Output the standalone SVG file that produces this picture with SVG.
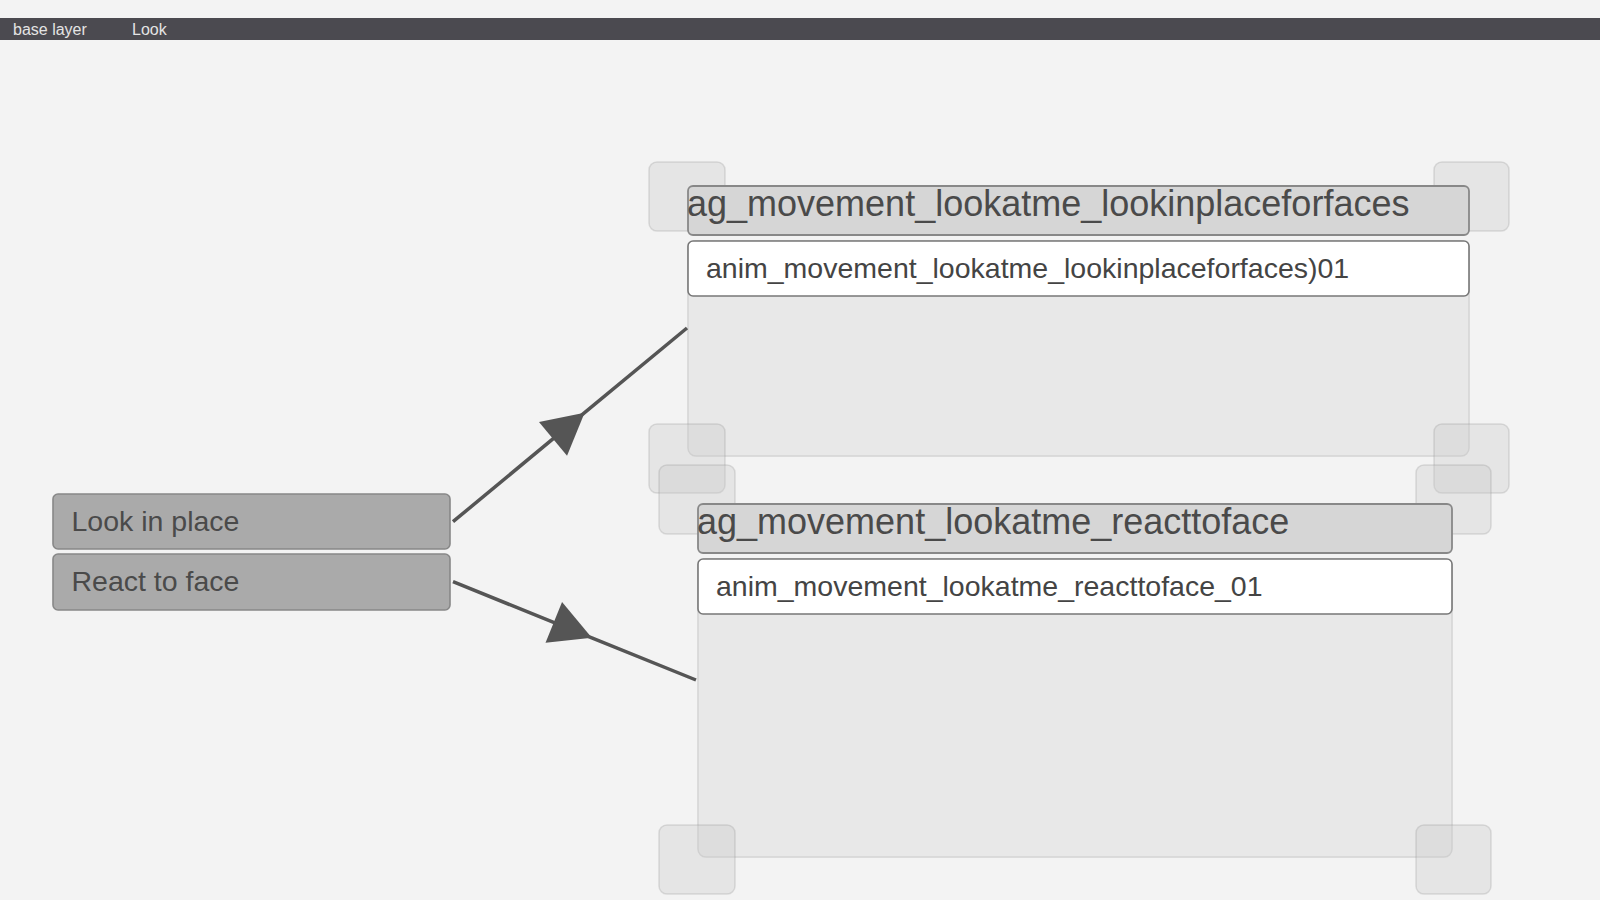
<svg xmlns="http://www.w3.org/2000/svg" width="1600" height="900" viewBox="0 0 1600 900">
<style>
.bg{fill:#f3f3f3}
.bar{fill:#4b4a50}
.bartxt{font-family:"Liberation Sans",Arial,sans-serif;font-size:16px;fill:#e4e4e4}
.body{fill:#e8e8e8;stroke:#d4d4d4;stroke-width:1.5}
.corner{fill:rgba(200,200,200,0.33);stroke:rgba(140,140,140,0.25);stroke-width:1.5}
.hdr{fill:#d6d6d6;stroke:#888888;stroke-width:1.8}
.item{fill:#ffffff;stroke:#777777;stroke-width:1.6}
.title{font-family:"Liberation Sans",Arial,sans-serif;font-size:36px;fill:#4a4a4a}
.itxt{font-family:"Liberation Sans",Arial,sans-serif;font-size:28.5px;fill:#444444}
.state{fill:#aaaaaa;stroke:#888888;stroke-width:1.6}
.stxt{font-family:"Liberation Sans",Arial,sans-serif;font-size:28.5px;fill:#4a4a4a}
.edge{fill:none;stroke:#555555;stroke-width:3.5;marker-mid:url(#arrow)}
</style>
<defs>
<marker id="arrow" markerUnits="userSpaceOnUse" viewBox="-43 -24 45 48" markerWidth="45" markerHeight="48" refX="0" refY="0" orient="auto">
<path d="M0,0 L-41,-22 L-41,22 Z" fill="#555555"/>
</marker>
</defs>
<rect class="bg" x="0" y="0" width="1600" height="900"/>
<g id="topbar">
<rect class="bar" x="0" y="18" width="1600" height="22"/>
<text class="bartxt" x="13" y="35">base layer</text>
<text class="bartxt" x="132" y="35">Look</text>
</g>
<g id="group-lookinplace">
<rect class="body" x="688" y="241" width="781" height="215" rx="8"/>
<rect class="corner" x="649" y="162" width="76" height="69" rx="8"/>
<rect class="corner" x="1434" y="162" width="75" height="69" rx="8"/>
<rect class="corner" x="649" y="424" width="76" height="69" rx="8"/>
<rect class="corner" x="1434" y="424" width="75" height="69" rx="8"/>
<rect class="hdr" x="688" y="186" width="781" height="49" rx="5"/>
<text class="title" x="687" y="215.5">ag_movement_lookatme_lookinplaceforfaces</text>
<rect class="item" x="688" y="241" width="781" height="55" rx="5"/>
<text class="itxt" x="706" y="278">anim_movement_lookatme_lookinplaceforfaces)01</text>
</g>
<g id="group-reacttoface">
<rect class="body" x="698" y="559" width="754" height="298" rx="8"/>
<rect class="corner" x="659" y="465" width="76" height="69" rx="8"/>
<rect class="corner" x="1416" y="465" width="75" height="69" rx="8"/>
<rect class="corner" x="659" y="825" width="76" height="69" rx="8"/>
<rect class="corner" x="1416" y="825" width="75" height="69" rx="8"/>
<rect class="hdr" x="698" y="504" width="754" height="49" rx="5"/>
<text class="title" x="697" y="534">ag_movement_lookatme_reacttoface</text>
<rect class="item" x="698" y="559" width="754" height="55" rx="5"/>
<text class="itxt" x="716" y="596">anim_movement_lookatme_reacttoface_01</text>
</g>
<g id="state-lookinplace">
<rect class="state" x="53" y="494" width="397" height="55" rx="5"/>
<text class="stxt" x="71.5" y="531">Look in place</text>
</g>
<g id="state-reacttoface">
<rect class="state" x="53" y="554" width="397" height="56" rx="5"/>
<text class="stxt" x="71.5" y="591">React to face</text>
</g>
<g id="connectors">
<path class="edge" d="M453,521.7 L584.6,412.7 L687,328"/>
<path class="edge" d="M453,581.7 L591.8,637.8 L696,680"/>
</g>
</svg>
